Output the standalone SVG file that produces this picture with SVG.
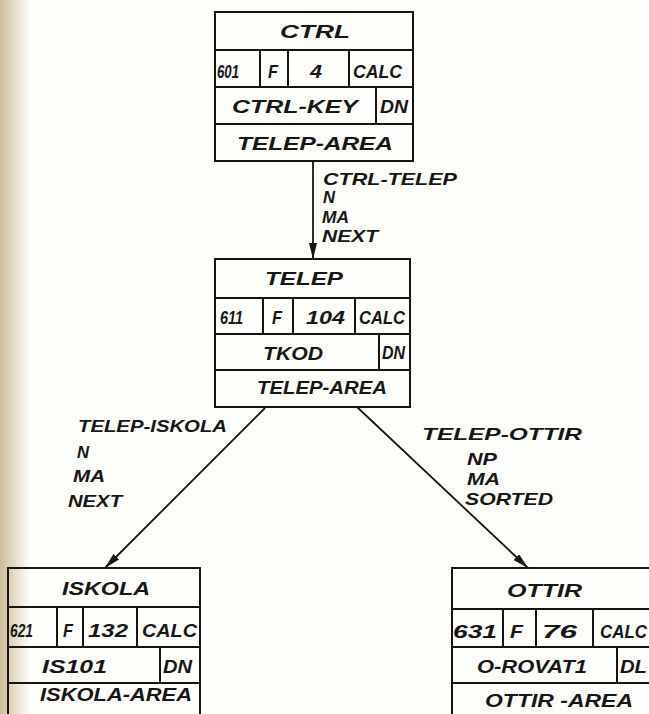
<svg xmlns="http://www.w3.org/2000/svg" width="649" height="714" viewBox="0 0 649 714">
<defs>
<linearGradient id="paper" x1="0" y1="0" x2="1" y2="0">
<stop offset="0" stop-color="#cbbe9c"/>
<stop offset="0.35" stop-color="#ddd4b8"/>
<stop offset="1" stop-color="#fdfdf9"/>
</linearGradient>
<marker id="ah" viewBox="0 0 16 8" refX="16" refY="4" markerWidth="16" markerHeight="8" orient="auto" markerUnits="userSpaceOnUse">
<path d="M0,0 L16,4 L0,8 z" fill="#151515"/>
</marker>
<style>
.box{fill:none;stroke:#151515;stroke-width:2}
.ln{stroke:#151515;stroke-width:2;fill:none}
.con{stroke:#151515;stroke-width:1.8;fill:none;marker-end:url(#ah)}
text{font-family:"Liberation Sans",Arial,sans-serif;font-style:italic;font-weight:bold;fill:#161616}
.t{font-size:19px}
.c{font-size:18px}
.l{font-size:17px}
</style>
</defs>
<rect x="0" y="0" width="649" height="714" fill="#fdfdf9"/>
<rect x="0" y="0" width="30" height="714" fill="url(#paper)"/>

<g id="connectors">
<line class="con" x1="313" y1="161" x2="313" y2="259"/>
<line class="con" x1="265" y1="408" x2="105" y2="568"/>
<line class="con" x1="357" y1="407" x2="528" y2="568"/>
<text class="l" x="323" y="185" textLength="134" lengthAdjust="spacingAndGlyphs">CTRL-TELEP</text>
<text class="l" x="323" y="203" textLength="12" lengthAdjust="spacingAndGlyphs">N</text>
<text class="l" x="322" y="223" textLength="27" lengthAdjust="spacingAndGlyphs">MA</text>
<text class="l" x="322" y="242" textLength="56" lengthAdjust="spacingAndGlyphs">NEXT</text>
<text class="l" x="78" y="432" textLength="149" lengthAdjust="spacingAndGlyphs">TELEP-ISKOLA</text>
<text class="l" x="77" y="458" textLength="12" lengthAdjust="spacingAndGlyphs">N</text>
<text class="l" x="73" y="482" textLength="32" lengthAdjust="spacingAndGlyphs">MA</text>
<text class="l" x="68" y="507" textLength="54" lengthAdjust="spacingAndGlyphs">NEXT</text>
<text class="l" x="422" y="440" textLength="160" lengthAdjust="spacingAndGlyphs">TELEP-OTTIR</text>
<text class="l" x="467" y="465" textLength="30" lengthAdjust="spacingAndGlyphs">NP</text>
<text class="l" x="467" y="485" textLength="33" lengthAdjust="spacingAndGlyphs">MA</text>
<text class="l" x="465" y="505" textLength="88" lengthAdjust="spacingAndGlyphs">SORTED</text>
</g>

<g id="ctrl">
<rect class="box" x="215" y="12" width="198" height="149"/>
<path class="ln" d="M215,50H413M215,87H413M215,124H413M260,50V87M288,50V87M349,50V87M376,87V124"/>
<text class="t" x="280" y="38" textLength="70" lengthAdjust="spacingAndGlyphs">CTRL</text>
<text class="c" x="217" y="78" textLength="22" lengthAdjust="spacingAndGlyphs">601</text>
<text class="c" x="268" y="78" textLength="10" lengthAdjust="spacingAndGlyphs">F</text>
<text class="c" x="310" y="78" textLength="12" lengthAdjust="spacingAndGlyphs">4</text>
<text class="c" x="353" y="78" textLength="49" lengthAdjust="spacingAndGlyphs">CALC</text>
<text class="c" x="232" y="113" textLength="126" lengthAdjust="spacingAndGlyphs">CTRL-KEY</text>
<text class="c" x="380" y="113" textLength="28" lengthAdjust="spacingAndGlyphs">DN</text>
<text class="t" x="237" y="150" textLength="156" lengthAdjust="spacingAndGlyphs">TELEP-AREA</text>
</g>

<g id="telep">
<rect class="box" x="215" y="259" width="195" height="148"/>
<path class="ln" d="M215,298H410M215,334H410M215,370H410M263,298V334M293,298V334M355,298V334M379,334V370"/>
<text class="t" x="265" y="285" textLength="78" lengthAdjust="spacingAndGlyphs">TELEP</text>
<text class="c" x="220" y="324" textLength="23" lengthAdjust="spacingAndGlyphs">611</text>
<text class="c" x="272" y="324" textLength="10" lengthAdjust="spacingAndGlyphs">F</text>
<text class="c" x="306" y="324" textLength="39" lengthAdjust="spacingAndGlyphs">104</text>
<text class="c" x="359" y="324" textLength="46" lengthAdjust="spacingAndGlyphs">CALC</text>
<text class="t" x="263" y="360" textLength="60" lengthAdjust="spacingAndGlyphs">TKOD</text>
<text class="c" x="382" y="359" font-size="14" textLength="23" lengthAdjust="spacingAndGlyphs">DN</text>
<text class="c" x="257" y="394" textLength="130" lengthAdjust="spacingAndGlyphs">TELEP-AREA</text>
</g>

<g id="iskola">
<path class="box" d="M8,720V568H200V720"/>
<path class="ln" d="M8,607H200M8,647H200M8,683H200M57,607V647M83,607V647M137,607V647M160,647V683"/>
<text class="t" x="62" y="595" textLength="88" lengthAdjust="spacingAndGlyphs">ISKOLA</text>
<text class="c" x="10" y="637" textLength="23" lengthAdjust="spacingAndGlyphs">621</text>
<text class="c" x="63" y="637" textLength="10" lengthAdjust="spacingAndGlyphs">F</text>
<text class="c" x="88" y="637" textLength="40" lengthAdjust="spacingAndGlyphs">132</text>
<text class="c" x="142" y="637" textLength="55" lengthAdjust="spacingAndGlyphs">CALC</text>
<text class="c" x="42" y="673" textLength="65" lengthAdjust="spacingAndGlyphs">IS101</text>
<text class="c" x="163" y="673" textLength="29" lengthAdjust="spacingAndGlyphs">DN</text>
<text class="c" x="40" y="701" textLength="152" lengthAdjust="spacingAndGlyphs">ISKOLA-AREA</text>
</g>

<g id="ottir">
<path class="box" d="M452,720V568H660"/>
<path class="ln" d="M452,609H660M452,647H660M452,683H660M503,609V647M536,609V647M593,609V647M617,647V683"/>
<text class="t" x="507" y="597" textLength="75" lengthAdjust="spacingAndGlyphs">OTTIR</text>
<text class="c" x="453" y="638" textLength="44" lengthAdjust="spacingAndGlyphs">631</text>
<text class="c" x="510" y="638" textLength="13" lengthAdjust="spacingAndGlyphs">F</text>
<text class="c" x="542" y="638" textLength="35" lengthAdjust="spacingAndGlyphs">76</text>
<text class="c" x="600" y="638" textLength="47" lengthAdjust="spacingAndGlyphs">CALC</text>
<text class="c" x="477" y="673" textLength="110" lengthAdjust="spacingAndGlyphs">O-ROVAT1</text>
<text class="c" x="620" y="673" textLength="27" lengthAdjust="spacingAndGlyphs">DL</text>
<text class="c" x="485" y="707" textLength="148" lengthAdjust="spacingAndGlyphs">OTTIR -AREA</text>
</g>
</svg>
